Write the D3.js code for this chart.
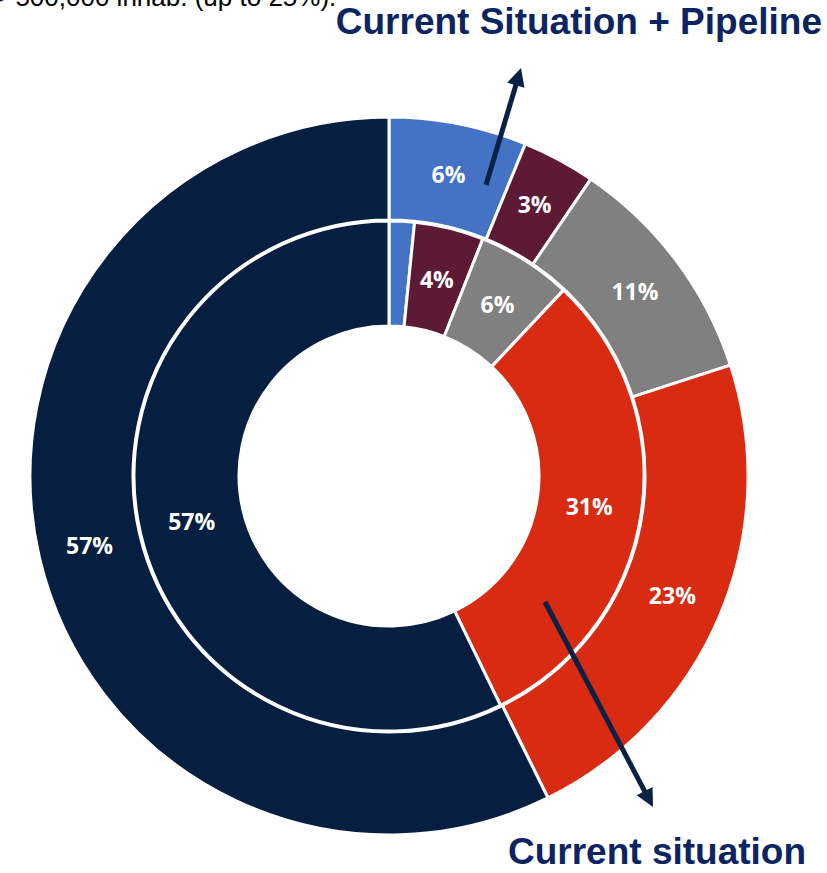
<!DOCTYPE html>
<html>
<head>
<meta charset="utf-8">
<script src="https://cdn.jsdelivr.net/npm/d3@7"></script>
<style>
  html, body { margin: 0; padding: 0; background: #ffffff; }
  svg { display: block; }
</style>
</head>
<body>
<div id="chart"></div>
<script>
// ---- data ----
const categories = ["Blue", "Maroon", "Grey", "Red", "Navy"];
const outerValues = [6.2, 3.3, 10.5, 22.7, 57.3];   // Current Situation + Pipeline
const innerValues = [1.6, 4.4, 6.0, 30.8, 57.2];    // Current situation
const outerLabels = ["6%", "3%", "11%", "23%", "57%"];
const innerLabels = ["", "4%", "6%", "31%", "57%"];
const colors = ["#4472C4", "#5D1A35", "#808080", "#D92A12", "#061F41"];
const titleOuter = "Current Situation + Pipeline";
const titleInner = "Current situation";
const topNote = "> 500,000 inhab. (up to 25%).";

const W = 827, H = 873;
const cx = 389, cy = 476;

const svg = d3.select("#chart").append("svg")
  .attr("width", W).attr("height", H)
  .attr("viewBox", `0 0 ${W} ${H}`);

const color = d3.scaleOrdinal().domain(categories).range(colors);

const pie = d3.pie().sort(null).value(d => d.value).startAngle(0).endAngle(2 * Math.PI);

const outerData = pie(categories.map((c, i) => ({ cat: c, value: outerValues[i], label: outerLabels[i] })));
const innerData = pie(categories.map((c, i) => ({ cat: c, value: innerValues[i], label: innerLabels[i] })));

const arcOuter = d3.arc().innerRadius(256).outerRadius(359);
const arcInner = d3.arc().innerRadius(150).outerRadius(255);

const g = svg.append("g").attr("transform", `translate(${cx},${cy})`);

function drawRing(data, arc) {
  const ring = g.append("g");
  ring.selectAll("path").data(data).enter().append("path")
    .attr("d", arc)
    .attr("fill", d => color(d.data.cat))
    .attr("stroke", "#ffffff")
    .attr("stroke-width", 3)
    .attr("stroke-linejoin", "miter");
  ring.selectAll("text").data(data.filter(d => d.data.label)).enter().append("text")
    .attr("transform", d => `translate(${arc.centroid(d)})`)
    .attr("text-anchor", "middle")
    .attr("dy", "0.36em")
    .attr("fill", "#ffffff")
    .style("font-family", "'Open Sans', sans-serif")
    .style("font-weight", 700)
    .style("font-size", "23px")
    .text(d => d.data.label);
}
drawRing(outerData, arcOuter);
drawRing(innerData, arcInner);

// ---- arrows ----
const arrowColor = "#0A2146";
function arrow(x1, y1, x2, y2) {
  const ang = Math.atan2(y2 - y1, x2 - x1);
  const headLen = 18, headW = 9;
  const bx = x2 - headLen * Math.cos(ang), by = y2 - headLen * Math.sin(ang);
  svg.append("line")
    .attr("x1", x1).attr("y1", y1).attr("x2", bx + 2 * Math.cos(ang)).attr("y2", by + 2 * Math.sin(ang))
    .attr("stroke", arrowColor).attr("stroke-width", 5);
  const px = -Math.sin(ang), py = Math.cos(ang);
  svg.append("polygon")
    .attr("points", [
      [x2, y2],
      [bx + px * headW, by + py * headW],
      [bx - px * headW, by - py * headW]
    ].map(p => p.join(",")).join(" "))
    .attr("fill", arrowColor);
}
arrow(486, 185, 521, 68);
arrow(545, 602, 653, 807);

// ---- texts ----
svg.append("text")
  .attr("x", -7).attr("y", 6)
  .attr("fill", "#000000")
  .style("font-family", "'Liberation Sans', Arial, sans-serif")
  .style("font-size", "26px")
  .text(topNote);

svg.append("text")
  .attr("x", 822).attr("y", 34)
  .attr("text-anchor", "end")
  .attr("fill", "#0C2461")
  .style("font-family", "'Liberation Sans', Arial, sans-serif")
  .style("font-weight", 700)
  .style("font-size", "37px")
  .text(titleOuter);

svg.append("text")
  .attr("x", 508).attr("y", 864)
  .attr("fill", "#0C2461")
  .style("font-family", "'Liberation Sans', Arial, sans-serif")
  .style("font-weight", 700)
  .style("font-size", "37px")
  .text(titleInner);
</script>
</body>
</html>
